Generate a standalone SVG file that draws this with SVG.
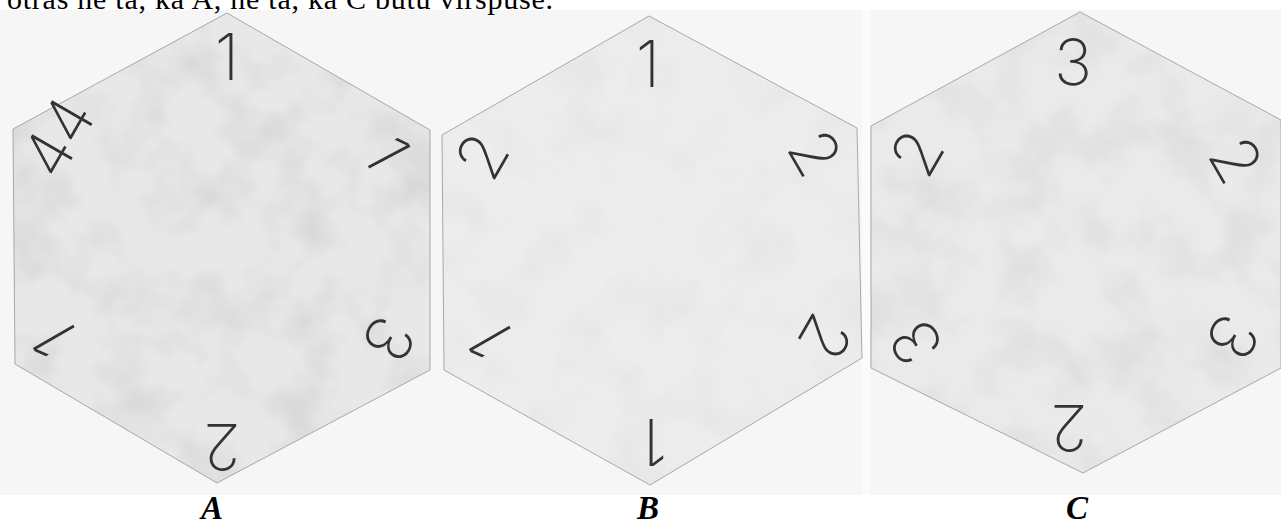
<svg xmlns="http://www.w3.org/2000/svg" width="1281" height="527" viewBox="0 0 1281 527">
<style>
.hex{fill:#e8e8e8;stroke:#a8a8a8;stroke-width:1}
.mot{fill:#000}
.d{font-family:Inter,"Lato",Roboto,"DejaVu Sans",sans-serif;font-weight:200;font-size:64px;fill:#333;text-anchor:middle}
.lbl{font-family:"Liberation Serif","Times New Roman",serif;font-weight:bold;font-style:italic;font-size:33px;fill:#000;text-anchor:middle}
.top{font-family:"Liberation Serif","Times New Roman",serif;font-size:30px;fill:#000}
</style>
<defs>
<filter id="mottle" x="0" y="0" width="100%" height="100%" color-interpolation-filters="sRGB">
<feTurbulence type="fractalNoise" baseFrequency="0.018" numOctaves="3" seed="7" result="n"/>
<feColorMatrix in="n" type="matrix" values="0 0 0 0 0.6  0 0 0 0 0.6  0 0 0 0 0.6  0.9 0 0 0 -0.38" result="g"/>
<feComposite in="g" in2="SourceGraphic" operator="in"/>
</filter>
</defs>
<rect x="0" y="0" width="1281" height="527" fill="#ffffff"/>
<rect x="0" y="10" width="1281" height="485" fill="#f6f6f6"/>
<rect x="862" y="10" width="8" height="485" fill="#fbfbfb"/>
<text class="top" x="7" y="8.5" textLength="546" lengthAdjust="spacing">otrās ne tā, ka A, ne tā, ka C būtu virspusē.</text>

<g id="hexA">
<polygon class="hex" points="227,13 430,130 430,370 217,483 15,364 13,129"/>
<polygon class="mot" filter="url(#mottle)" opacity="0.55" points="227,13 430,130 430,370 217,483 15,364 13,129"/>
<g transform="translate(227,57)"><text class="d" y="23">1</text></g>
<g transform="translate(387,153) rotate(62)"><text class="d" y="23">1</text></g>
<g transform="translate(389,339) rotate(120)"><text class="d" y="23">3</text></g>
<g transform="translate(222,447) rotate(180)"><text class="d" y="23">2</text></g>
<g transform="translate(56,341) rotate(240)"><text class="d" y="23">1</text></g>
<g transform="translate(58,137) rotate(300)"><text class="d" y="23">44</text></g>
<text class="lbl" x="212" y="519">A</text>
</g>

<g id="hexB">
<polygon class="hex" points="649,16 857,128 862,358 650,485 444,370 442,135" style="fill:#ededed"/>
<polygon class="mot" filter="url(#mottle)" opacity="0.2" points="649,16 857,128 862,358 650,485 444,370 442,135"/>
<g transform="translate(648,64)"><text class="d" y="23">1</text></g>
<g transform="translate(815,153) rotate(60)"><text class="d" y="23">2</text></g>
<g transform="translate(825,337) rotate(120)"><text class="d" y="23">2</text></g>
<g transform="translate(655,442) rotate(180)"><text class="d" y="23">1</text></g>
<g transform="translate(492,342) rotate(240)"><text class="d" y="23">1</text></g>
<g transform="translate(482,156) rotate(300)"><text class="d" y="23">2</text></g>
<text class="lbl" x="648" y="519">B</text>
</g>

<g id="hexC">
<polygon class="hex" points="1080,12 1281,120 1281,368 1083,473 871,368 871,126" style="fill:#eaeaea"/>
<polygon class="mot" filter="url(#mottle)" opacity="0.4" points="1080,12 1281,120 1281,368 1083,473 871,368 871,126"/>
<g transform="translate(1073,62)"><text class="d" y="23">3</text></g>
<g transform="translate(1236,160) rotate(60)"><text class="d" y="23">2</text></g>
<g transform="translate(1233,337) rotate(120)"><text class="d" y="23">3</text></g>
<g transform="translate(1069,428) rotate(180)"><text class="d" y="23">2</text></g>
<g transform="translate(916,343) rotate(240)"><text class="d" y="23">3</text></g>
<g transform="translate(917,153) rotate(300)"><text class="d" y="23">2</text></g>
<text class="lbl" x="1077" y="519">C</text>
</g>
</svg>
